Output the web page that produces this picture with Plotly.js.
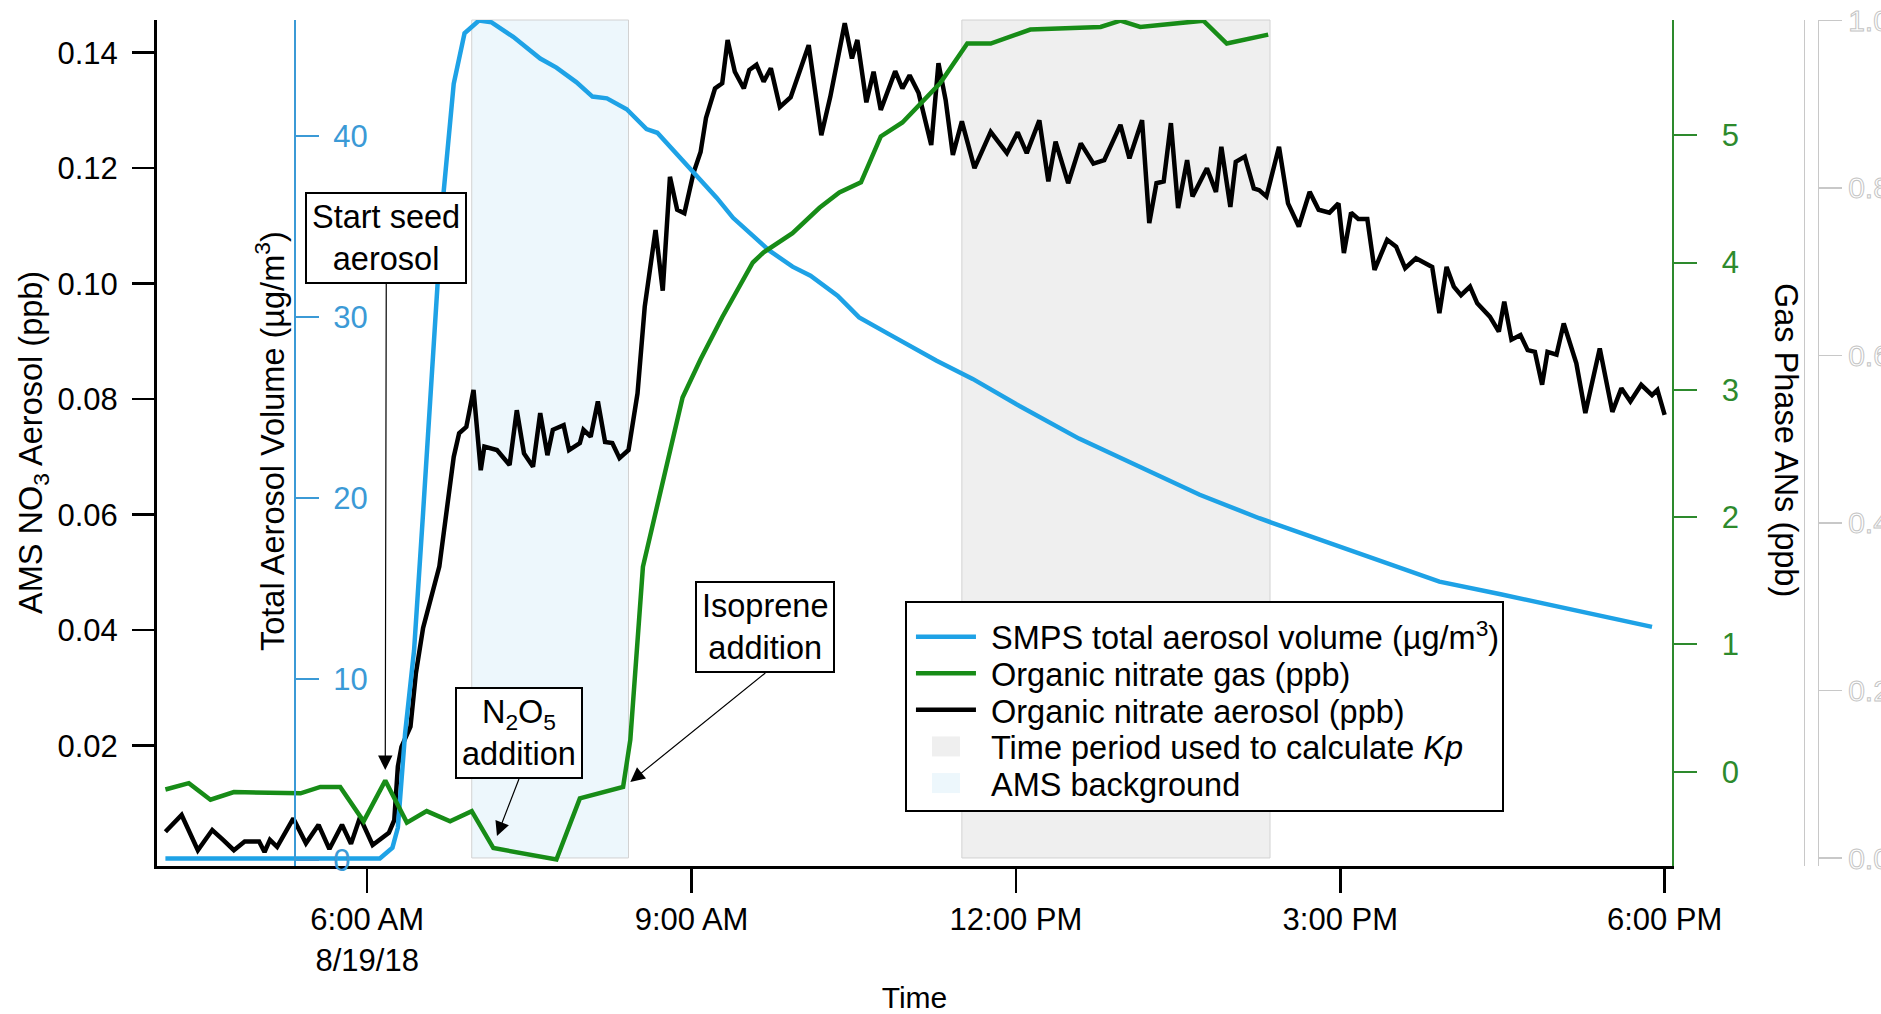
<!DOCTYPE html>
<html>
<head>
<meta charset="utf-8">
<title>Organic nitrate partitioning, 8/19/18</title>
<script src="https://cdn.plot.ly/plotly-3.0.1.min.js"></script>
<style>
  html, body { margin: 0; padding: 0; background: #fff; }
  #chart { width: 1881px; height: 1014px; }
  /* outlined (hollow) labels on the faint far-right scale */
  .y5tick text { fill: #ffffff !important; stroke: #c4c4c4 !important; stroke-width: 1px; }
</style>
</head>
<body>
<div id="chart"></div>
<script>
const DAY = '2018-08-19 ';

// SMPS total aerosol volume (µg/m3)
const smpsTime = ['04:08','06:07','06:14','06:17','06:21','06:26','06:31','06:37','06:42','06:48',
  '06:54','07:02','07:09','07:21','07:29','07:36','07:45','07:56','08:05','08:13',
  '08:24','08:35','08:41','08:50','09:01','09:14','09:23','09:34','09:43','09:56',
  '10:06','10:21','10:33','10:49','11:16','11:36','12:02','12:35','13:09','13:42',
  '14:15','14:49','15:22','15:55','16:29','17:02','17:35','17:53'];
const smpsVolume = [0.1,0.1,0.7,1.8,7.0,11.6,19.2,29.1,36.5,42.9,
  45.7,46.4,46.3,45.5,44.9,44.3,43.8,43.0,42.2,42.1,
  41.5,40.4,40.2,39.2,38.0,36.6,35.5,34.5,33.7,32.8,
  32.3,31.2,30.0,29.1,27.6,26.6,25.1,23.3,21.7,20.2,
  18.9,17.7,16.6,15.4,14.7,14.0,13.3,12.9];

// Gas phase organic nitrates (ppb)
const gasTime = ['04:08','04:21','04:33','04:46','05:23','05:34','05:45','05:58','06:10','06:22',
  '06:33','06:46','06:58','07:10','07:45','07:58','08:22','08:26','08:33','08:55',
  '09:05','09:17','09:34','09:40','09:56','10:11','10:22','10:34','10:45','10:57',
  '11:18','11:33','11:46','12:08','12:47','12:58','13:09','13:44','13:57','14:20'];
const gasANs = [-0.14,-0.09,-0.22,-0.16,-0.17,-0.12,-0.12,-0.39,-0.07,-0.40,
  -0.31,-0.39,-0.31,-0.60,-0.69,-0.21,-0.12,0.25,1.61,2.94,
  3.24,3.57,4.00,4.08,4.23,4.43,4.55,4.63,4.99,5.10,
  5.41,5.72,5.72,5.83,5.85,5.90,5.85,5.90,5.72,5.79];

// AMS organic nitrate aerosol (ppb)
const amsTime = ['04:08','04:17','04:26','04:34','04:40','04:46','04:52','05:00','05:03','05:06',
  '05:10','05:19','05:26','05:33','05:39','05:46','05:51','05:56','06:03','06:12',
  '06:15','06:17','06:19','06:24','06:27','06:31','06:40','06:48','06:51','06:55',
  '06:59','07:03','07:05','07:12','07:19','07:23','07:27','07:32','07:36','07:40',
  '07:43','07:49','07:52','07:58','08:00','08:04','08:08','08:12','08:16','08:20',
  '08:25','08:30','08:34','08:40','08:44','08:48','08:52','08:56','09:01','09:05',
  '09:08','09:13','09:17','09:20','09:24','09:29','09:32','09:36','09:40','09:44',
  '09:49','09:55','10:05','10:12','10:17','10:25','10:29','10:32','10:37','10:41',
  '10:45','10:53','10:57','11:01','11:06','11:13','11:17','11:21','11:25','11:30',
  '11:37','11:46','11:55','12:01','12:06','12:13','12:18','12:22','12:29','12:36',
  '12:43','12:49','12:58','13:03','13:10','13:14','13:18','13:22','13:26','13:30',
  '13:35','13:38','13:46','13:51','13:54','13:59','14:02','14:07','14:12','14:15',
  '14:19','14:26','14:31','14:37','14:43','14:48','14:54','14:59','15:02','15:06',
  '15:10','15:15','15:19','15:26','15:31','15:36','15:42','15:51','15:55','15:59',
  '16:03','16:07','16:12','16:16','16:23','16:28','16:31','16:35','16:40','16:44',
  '16:48','16:52','16:55','17:00','17:04','17:11','17:16','17:24','17:31','17:36',
  '17:41','17:47','17:53','17:56','18:00'];
const amsNitrate = [0.0051,0.0080,0.0019,0.0054,0.0037,0.0019,0.0034,0.0034,0.0016,0.0037,
  0.0025,0.0074,0.0031,0.0063,0.0021,0.0063,0.0030,0.0076,0.0028,0.0049,
  0.0071,0.0164,0.0198,0.0233,0.0325,0.0404,0.0510,0.0700,0.0741,0.0752,
  0.0816,0.0677,0.0718,0.0712,0.0686,0.0781,0.0706,0.0683,0.0776,0.0703,
  0.0747,0.0755,0.0712,0.0724,0.0747,0.0735,0.0796,0.0726,0.0724,0.0698,
  0.0712,0.0810,0.0960,0.1093,0.0988,0.1185,0.1128,0.1122,0.1191,0.1228,
  0.1287,0.1338,0.1347,0.1422,0.1367,0.1338,0.1370,0.1379,0.1350,0.1373,
  0.1306,0.1323,0.1413,0.1257,0.1324,0.1451,0.1390,0.1422,0.1314,0.1367,
  0.1301,0.1368,0.1338,0.1361,0.1330,0.1240,0.1382,0.1318,0.1223,0.1281,
  0.1200,0.1263,0.1226,0.1262,0.1226,0.1283,0.1177,0.1246,0.1174,0.1243,
  0.1208,0.1214,0.1275,0.1217,0.1283,0.1105,0.1174,0.1177,0.1278,0.1131,
  0.1214,0.1151,0.1200,0.1159,0.1237,0.1133,0.1211,0.1220,0.1165,0.1162,
  0.1151,0.1237,0.1139,0.1099,0.1159,0.1128,0.1123,0.1139,0.1053,0.1123,
  0.1112,0.1112,0.1024,0.1076,0.1064,0.1027,0.1044,0.1029,0.0949,0.1029,
  0.0995,0.0980,0.0995,0.0966,0.0943,0.0917,0.0969,0.0903,0.0911,0.0885,
  0.0882,0.0825,0.0882,0.0877,0.0931,0.0862,0.0776,0.0888,0.0778,0.0819,
  0.0796,0.0825,0.0807,0.0816,0.0773];

// shaded periods [start, end]
const amsBackgroundPeriod = ['06:58', '08:25'];
const kpPeriod = ['11:30', '14:21'];

// experiment events marked with arrows
const seedStart = '06:10';
const n2o5Addition = '07:12';
const isopreneAddition = '08:26';

// axis ticks
const timeTicks = ['06:00', '09:00', '12:00', '15:00', '18:00'];
const timeTickText = ['6:00 AM<br>8/19/18', '9:00 AM', '12:00 PM', '3:00 PM', '6:00 PM'];
const amsTicks = [0.02, 0.04, 0.06, 0.08, 0.10, 0.12, 0.14];
const smpsTicks = [0, 10, 20, 30, 40];
const gasTicks = [0, 1, 2, 3, 4, 5];
const outerTicks = [0, 0.2, 0.4, 0.6, 0.8, 1.0];

const stamp = t => DAY + t;

const FONT = '"Liberation Sans", Arial, Helvetica, sans-serif';
const BLUE = '#1ea2e6';
const BLUE_AXIS = '#3b9ad6';
const GREEN = '#178c17';
const GREEN_AXIS = '#2d8a2d';
const KP_FILL = '#efefef';
const AMS_FILL = '#edf7fc';
const GHOST = '#c8c8c8';
const FS = 31;     // tick labels
const FT = 32.5;   // titles, callouts, legend

const traces = [
  {
    name: 'Organic nitrate gas (ppb)',
    x: gasTime.map(stamp), y: gasANs, yaxis: 'y3',
    mode: 'lines', line: { color: GREEN, width: 4.5 }, legendrank: 2
  },
  {
    name: 'SMPS total aerosol volume (µg/m<sup>3</sup>)',
    x: smpsTime.map(stamp), y: smpsVolume, yaxis: 'y2',
    mode: 'lines', line: { color: BLUE, width: 4.5 }, legendrank: 1
  },
  {
    name: 'Organic nitrate aerosol (ppb)',
    x: amsTime.map(stamp), y: amsNitrate, yaxis: 'y',
    mode: 'lines', line: { color: '#000', width: 4.5 }, legendrank: 3
  },
  {
    name: 'Time period used to calculate <i>Kp</i>',
    x: [null], y: [null], mode: 'markers',
    marker: { symbol: 'square', size: 16, color: KP_FILL }, legendrank: 4
  },
  {
    name: 'AMS background',
    x: [null], y: [null], mode: 'markers',
    marker: { symbol: 'square', size: 16, color: AMS_FILL }, legendrank: 5
  },
  // empty series that carry the faint outer scale
  { x: [null], y: [null], yaxis: 'y4', mode: 'lines', showlegend: false, hoverinfo: 'skip' },
  { x: [null], y: [null], yaxis: 'y5', mode: 'lines', showlegend: false, hoverinfo: 'skip' }
];

const band = (period, color) => ({
  type: 'rect', layer: 'below', xref: 'x', yref: 'paper',
  x0: stamp(period[0]), x1: stamp(period[1]), y0: 0.0095, y1: 1,
  fillcolor: color, line: { color: '#d2d2d2', width: 1 }
});

const callout = (text, t, yPaper, ax, ay) => ({
  text: text, x: stamp(t), xref: 'x', y: yPaper, yref: 'paper',
  ax: ax, ay: ay, xanchor: 'center', yanchor: 'bottom',
  showarrow: true, arrowhead: 2, arrowsize: 2.4, arrowwidth: 1.2, arrowcolor: '#000',
  bgcolor: '#fff', bordercolor: '#000', borderwidth: 2, borderpad: 5,
  font: { size: FT, color: '#000' }
});

const axisTitle = (text, x, y, angle) => ({
  text: text, xref: 'paper', yref: 'paper', x: x, y: y, textangle: angle,
  xanchor: 'center', yanchor: 'middle', showarrow: false,
  font: { size: FT, color: '#000' }
});

const layout = {
  width: 1881, height: 1014,
  margin: { l: 157, r: 21, t: 20, b: 148, pad: 0 },
  paper_bgcolor: '#fff', plot_bgcolor: 'rgba(0,0,0,0)',
  font: { family: FONT, size: FS, color: '#000' },
  showlegend: true,
  xaxis: {
    type: 'date', domain: [0, 0.8896], anchor: 'y',
    range: [DAY + '04:03:20', DAY + '18:04:05'],
    tickmode: 'array', tickvals: timeTicks.map(stamp), ticktext: timeTickText,
    ticks: 'outside', ticklen: 24, tickwidth: 2.5, tickcolor: '#000',
    showline: true, linecolor: '#000', linewidth: 3,
    showgrid: false, zeroline: false, automargin: false,
    title: { text: 'Time', standoff: 12, font: { size: 30 } }
  },
  yaxis: {
    range: [-0.00083, 0.14566],
    tickmode: 'array', tickvals: amsTicks, tickformat: '.2f',
    ticks: 'outside', ticklen: 22, tickwidth: 2.5, tickcolor: '#000',
    showline: true, linecolor: '#000', linewidth: 3,
    showgrid: false, zeroline: false, automargin: false, ticklabelstandoff: 8
  },
  yaxis2: {
    overlaying: 'y', anchor: 'free', position: 0.0810, side: 'right',
    range: [-0.315, 46.43],
    tickmode: 'array', tickvals: smpsTicks,
    ticks: 'outside', ticklen: 23, tickwidth: 2, tickcolor: BLUE_AXIS,
    showline: true, linecolor: BLUE_AXIS, linewidth: 2,
    tickfont: { color: BLUE_AXIS, size: FS },
    showgrid: false, zeroline: false, automargin: false, ticklabelstandoff: 8
  },
  yaxis3: {
    overlaying: 'y', anchor: 'x', side: 'right',
    range: [-0.741, 5.905],
    tickmode: 'array', tickvals: gasTicks,
    ticks: 'outside', ticklen: 23, tickwidth: 2, tickcolor: GREEN_AXIS,
    showline: true, linecolor: GREEN_AXIS, linewidth: 2.5,
    tickfont: { color: GREEN_AXIS, size: FS },
    showgrid: false, zeroline: false, automargin: false, ticklabelstandoff: 18
  },
  yaxis4: {
    overlaying: 'y', anchor: 'free', position: 0.9672, side: 'right',
    range: [-0.00955, 1.0005], showticklabels: false, ticks: '',
    showline: true, linecolor: GHOST, linewidth: 1.2,
    showgrid: false, zeroline: false, automargin: false
  },
  yaxis5: {
    overlaying: 'y', anchor: 'free', position: 0.9753, side: 'right',
    range: [-0.00955, 1.0005],
    tickmode: 'array', tickvals: outerTicks, tickformat: '.1f',
    ticks: 'outside', ticklen: 23, tickwidth: 1.2, tickcolor: GHOST,
    showline: true, linecolor: GHOST, linewidth: 1.2,
    tickfont: { color: GHOST, size: 30 },
    showgrid: false, zeroline: false, automargin: false, ticklabelstandoff: 0
  },
  shapes: [
    band(kpPeriod, KP_FILL),
    band(amsBackgroundPeriod, AMS_FILL)
  ],
  annotations: [
    callout('Start seed<br>aerosol', seedStart, 0.1135, 1, -486),
    callout('N<sub>2</sub>O<sub>5</sub><br>addition', n2o5Addition, 0.0355, 22, -57),
    callout('Isoprene<br>addition', isopreneAddition, 0.0993, 135, -109),
    axisTitle('AMS NO<sub>3</sub> Aerosol (ppb)', -0.0728, 0.500, -90),
    axisTitle('Total Aerosol Volume (µg/m<sup>3</sup>)', 0.0664, 0.5024, -90),
    axisTitle('Gas Phase ANs (ppb)', 0.9566, 0.5035, 90)
  ],
  legend: {
    x: 0.4392, y: 0.3132, xanchor: 'left', yanchor: 'top',
    bgcolor: '#fff', bordercolor: '#000', borderwidth: 2,
    font: { size: FT, color: '#000' }, itemwidth: 60, traceorder: 'normal'
  }
};

// Tighten the legend rows, open a gap before the labels and widen the shaded-period swatches.
function tidyLegend() {
  const leg = gd.querySelector('.legend');
  if (!leg) return;
  const items = Array.from(leg.querySelectorAll('g.traces'));
  if (items.length < 2) return;
  const pos = g => {
    const m = /translate\(\s*([-\d.e]+)[ ,]+([-\d.e]+)/.exec(g.getAttribute('transform') || '');
    return m ? { x: +m[1], y: +m[2] } : null;
  };
  const p0 = pos(items[0]), p1 = pos(items[1]);
  if (!p0 || !p1) return;
  const ROW = 36.6, LABEL_SHIFT = 10, ITEM_DX = 4, ITEM_DY = 6, EXTRA_H = 5, EXTRA_W = 11;
  const oldRow = p1.y - p0.y;
  items.forEach((g, i) => {
    const p = pos(g);
    g.setAttribute('transform', `translate(${p.x + ITEM_DX},${p0.y + ITEM_DY + i * ROW})`);
    const tx = g.querySelector('text.legendtext');
    if (tx) tx.setAttribute('transform', `translate(${LABEL_SHIFT},0)`);
  });
  // the labels now reach a little further right, so let the item layer draw unclipped
  leg.querySelectorAll('[clip-path]').forEach(el => el.removeAttribute('clip-path'));
  const dh = EXTRA_H - (items.length - 1) * (oldRow - ROW);
  leg.querySelectorAll('rect.bg').forEach(r => {
    r.setAttribute('height', +r.getAttribute('height') + dh);
    r.setAttribute('width', +r.getAttribute('width') + EXTRA_W);
  });
  leg.querySelectorAll('.legendpoints path.scatterpts').forEach(p => {
    p.setAttribute('d', 'M-14,-10H14V10H-14Z');
  });
}

const gd = document.getElementById('chart');
Plotly.newPlot(gd, traces, layout, { staticPlot: true, displayModeBar: false }).then(tidyLegend);
</script>
</body>
</html>
